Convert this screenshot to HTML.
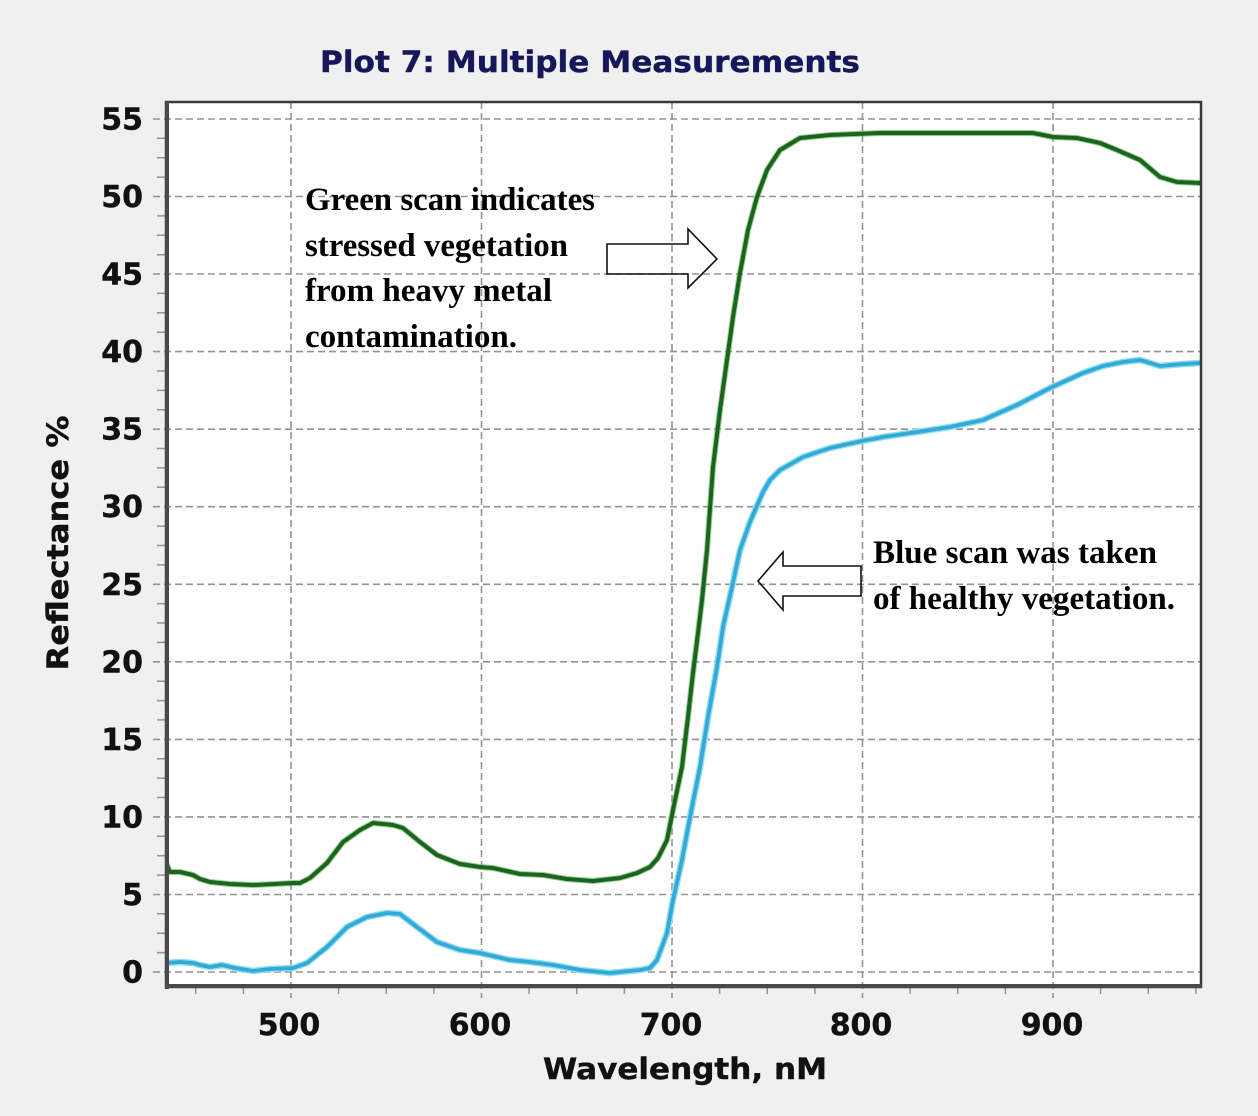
<!DOCTYPE html>
<html>
<head>
<meta charset="utf-8">
<style>
html,body{margin:0;padding:0;background:#f0f0f0;}
svg{display:block;}
</style>
</head>
<body>
<svg width="1258" height="1116" viewBox="0 0 1258 1116" xmlns="http://www.w3.org/2000/svg">
<rect x="0" y="0" width="1258" height="1116" fill="#f0f0f0"/>
<defs>
<clipPath id="pc"><rect x="168" y="104" width="1032" height="881"/></clipPath>
</defs>
<!-- plot area -->
<rect x="166" y="102" width="1035" height="885" fill="#ffffff"/>

<!-- gridlines -->
<g stroke="#939393" stroke-width="1.6" stroke-dasharray="7 4" fill="none">
<path d="M153 119H1201M153 196.5H1201M153 274H1201M153 351.6H1201M153 429.2H1201M153 506.7H1201M153 584.3H1201M153 661.8H1201M153 739.4H1201M153 816.9H1201M153 894.5H1201M153 972H1201"/>
<path d="M291 102V998M481.5 102V998M672 102V998M862.5 102V998M1053 102V998"/>
</g>
<!-- minor ticks -->
<g stroke="#939393" stroke-width="1.5" fill="none">
<path d="M157 952.6H166M157 933.2H166M157 913.8H166M157 875.1H166M157 855.7H166M157 836.3H166M157 797.5H166M157 778.1H166M157 758.7H166M157 719.9H166M157 700.6H166M157 681.2H166M157 642.4H166M157 623H166M157 603.6H166M157 564.9H166M157 545.5H166M157 526.1H166M157 487.3H166M157 467.9H166M157 448.5H166M157 409.8H166M157 390.4H166M157 371H166M157 332.2H166M157 312.8H166M157 293.4H166M157 254.7H166M157 235.3H166M157 215.9H166M157 177.1H166M157 157.7H166M157 138.3H166"/>
<path d="M195.75 987V994M243.4 987V994M338.6 987V994M386.25 987V994M433.9 987V994M529.1 987V994M576.75 987V994M624.4 987V994M719.6 987V994M767.25 987V994M814.9 987V994M910.1 987V994M957.75 987V994M1005.4 987V994M1100.6 987V994M1148.25 987V994M1195.9 987V994"/>
</g>

<!-- curves -->
<g clip-path="url(#pc)" fill="none" stroke-linejoin="round" stroke-linecap="round">
<polyline stroke="#8fdcf3" stroke-width="6.5" points="167,963 180,962 193,963 200,965 210,967 222,965 235,968 253,971 270,969 293,968 307,963 327,947 347,927 367,917 387,913 400,914 417,927 437,942 460,950 480,953 510,960 530,962 553,965 580,970 610,973 640,970 650,968 657,960 667,933 673,900 682,860 690,817 700,767 708,717 717,667 723,627 732,587 740,550 750,522 756,508 763,492 770,480 780,470 803,457 830,448 862,441 883,437 917,432 950,427 983,420 1017,405 1050,388 1083,373 1103,366 1123,362 1140,360 1160,366 1183,364 1201,363"/>
<polyline stroke="#33aad6" stroke-width="3.8" points="167,963 180,962 193,963 200,965 210,967 222,965 235,968 253,971 270,969 293,968 307,963 327,947 347,927 367,917 387,913 400,914 417,927 437,942 460,950 480,953 510,960 530,962 553,965 580,970 610,973 640,970 650,968 657,960 667,933 673,900 682,860 690,817 700,767 708,717 717,667 723,627 732,587 740,550 750,522 756,508 763,492 770,480 780,470 803,457 830,448 862,441 883,437 917,432 950,427 983,420 1017,405 1050,388 1083,373 1103,366 1123,362 1140,360 1160,366 1183,364 1201,363"/>
<polyline stroke="#5aa85a" stroke-width="6" stroke-opacity="0.6" points="167,865 170,872 180,872 193,875 200,879 210,882 230,884 253,885 275,884 293,883 300,883 310,878 327,863 343,842 360,830 373,823 393,825 403,828 420,842 437,855 460,864 480,867 493,868 520,874 543,875 567,879 593,881 620,878 637,873 650,867 658,858 667,840 673,810 682,767 688,717 693,673 698,633 702,600 707,550 713,467 720,410 727,360 733,317 740,273 748,230 757,197 767,170 780,150 800,138 830,135 880,133 900,133 1033,133 1053,137 1077,138 1100,143 1117,150 1140,160 1160,177 1177,182 1201,183"/>
<polyline stroke="#1b641b" stroke-width="4" points="167,865 170,872 180,872 193,875 200,879 210,882 230,884 253,885 275,884 293,883 300,883 310,878 327,863 343,842 360,830 373,823 393,825 403,828 420,842 437,855 460,864 480,867 493,868 520,874 543,875 567,879 593,881 620,878 637,873 650,867 658,858 667,840 673,810 682,767 688,717 693,673 698,633 702,600 707,550 713,467 720,410 727,360 733,317 740,273 748,230 757,197 767,170 780,150 800,138 830,135 880,133 900,133 1033,133 1053,137 1077,138 1100,143 1117,150 1140,160 1160,177 1177,182 1201,183"/>
</g>

<!-- frame -->
<rect x="166" y="102" width="1035" height="885" fill="none" stroke="#3a3a3a" stroke-width="2.5"/>
<line x1="167" y1="101" x2="167" y2="989" stroke="#4a4a4a" stroke-width="4"/>
<line x1="165" y1="986" x2="1202" y2="986" stroke="#4a4a4a" stroke-width="4"/>

<!-- arrows -->
<polygon points="607,244 688,244 688,229 717,259 688,288 688,274 607,274" fill="none" stroke="#111" stroke-width="1.6"/>
<polygon points="861,566 783,566 783,552 758,581 783,610 783,596 861,596" fill="none" stroke="#111" stroke-width="1.6"/>

<!-- annotations -->
<g font-family="'Liberation Serif', serif" font-weight="bold" font-size="33" fill="#000">
<text x="305" y="210" textLength="290" lengthAdjust="spacingAndGlyphs">Green scan indicates</text>
<text x="305" y="256" textLength="263" lengthAdjust="spacingAndGlyphs">stressed vegetation</text>
<text x="305" y="301" textLength="247" lengthAdjust="spacingAndGlyphs">from heavy metal</text>
<text x="305" y="347" textLength="212" lengthAdjust="spacingAndGlyphs">contamination.</text>
<text x="873" y="563" textLength="284" lengthAdjust="spacingAndGlyphs">Blue scan was taken</text>
<text x="873" y="609" textLength="302" lengthAdjust="spacingAndGlyphs">of healthy vegetation.</text>
</g>

<!-- title -->
<text x="320" y="72" font-family="'DejaVu Sans', Verdana, sans-serif" font-weight="bold" font-size="29" fill="#16165a" stroke="#16165a" stroke-width="0.4" textLength="540" lengthAdjust="spacingAndGlyphs">Plot 7: Multiple Measurements</text>

<!-- y tick labels -->
<g font-family="'DejaVu Sans', Verdana, sans-serif" font-weight="bold" font-size="30" fill="#111" stroke="#111" stroke-width="0.4" text-anchor="end">
<text x="143" y="129.5">55</text>
<text x="143" y="207">50</text>
<text x="143" y="284.5">45</text>
<text x="143" y="362">40</text>
<text x="143" y="439.7">35</text>
<text x="143" y="517.2">30</text>
<text x="143" y="594.8">25</text>
<text x="143" y="672.3">20</text>
<text x="143" y="749.9">15</text>
<text x="143" y="827.4">10</text>
<text x="143" y="905">5</text>
<text x="143" y="982.5">0</text>
</g>
<!-- x tick labels -->
<g font-family="'DejaVu Sans', Verdana, sans-serif" font-weight="bold" font-size="30" fill="#111" stroke="#111" stroke-width="0.4" text-anchor="middle">
<text x="289" y="1035">500</text>
<text x="480" y="1035">600</text>
<text x="671" y="1035">700</text>
<text x="861" y="1035">800</text>
<text x="1052" y="1035">900</text>
</g>

<!-- axis titles -->
<text x="543" y="1079" font-family="'DejaVu Sans', Verdana, sans-serif" font-weight="bold" font-size="29" fill="#111" stroke="#111" stroke-width="0.4" textLength="284" lengthAdjust="spacingAndGlyphs">Wavelength, nM</text>
<text transform="translate(68,543) rotate(-90)" x="0" y="0" text-anchor="middle" font-family="'DejaVu Sans', Verdana, sans-serif" font-weight="bold" font-size="29" fill="#111" stroke="#111" stroke-width="0.4" textLength="255" lengthAdjust="spacingAndGlyphs">Reflectance %</text>
</svg>
</body>
</html>
